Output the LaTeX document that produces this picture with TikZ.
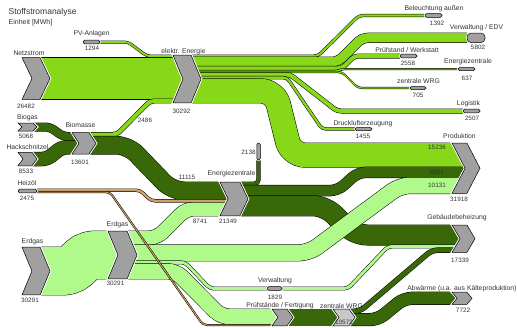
\documentclass[tikz,border=0pt]{standalone}
\usepackage{fontspec}
\setmainfont{Liberation Sans}
\usetikzlibrary{shapes.symbols,backgrounds}

\definecolor{elecgreen}{RGB}{134,216,24}
\definecolor{biogreen}{RGB}{56,104,8}
\definecolor{gasgreen}{RGB}{176,250,140}
\definecolor{oiltan}{RGB}{206,160,100}
\definecolor{stockgray}{RGB}{160,160,160}
\definecolor{wrggray}{RGB}{200,200,200}
\definecolor{lbltext}{RGB}{50,50,50}

\tikzset{
  flow/.style={draw=black, line width=0.5pt, double distance=#1pt, rounded corners=4pt},
  elecflow/.style={flow=#1, double=elecgreen},
  bioflow/.style={flow=#1, double=biogreen},
  gasflow/.style={flow=#1, double=gasgreen},
  oilflow/.style={flow=#1, double=oiltan},
  stock/.style={signal, signal from=west, signal to=east, draw=black, fill=stockgray,
    line width=0.5pt, inner sep=0pt, minimum width=28pt,
    preaction={draw=white, line width=2.5pt}},
  sink/.style={rectangle, rounded corners=1.5pt, draw=black, fill=stockgray,
    line width=0.5pt, inner sep=0pt, minimum width=17pt, minimum height=3.6pt,
    preaction={draw=white, line width=2pt}},
  lbl/.style={font=\fontsize{6.8}{7}\selectfont, text=lbltext, inner sep=0pt},
  val/.style={font=\fontsize{6.3}{7}\selectfont, text=lbltext, inner sep=0pt},
}

\begin{document}
\begin{tikzpicture}[x=1pt,y=-1pt]
\useasboundingbox (0,0) rectangle (517,327);

% Quellen und Knoten
\node[stock, minimum height=41.8pt, signal pointer angle=129] (netz) at (36,78.5) {};
\node[stock, minimum height=47.9pt, signal pointer angle=135] (elec) at (187,79) {};
\node[stock, minimum width=19pt, minimum height=8pt, signal pointer angle=90] (biogas) at (27.5,127) {};
\node[stock, minimum width=19pt, minimum height=13.5pt, signal pointer angle=107] (hack) at (27.5,159) {};
\node[stock, minimum width=24pt, minimum height=21.5pt, signal pointer angle=114] (biom) at (84,143.3) {};
\node[stock, minimum height=33.7pt, signal pointer angle=129] (ez) at (234,198.9) {};
\node[stock, minimum height=47.9pt, signal pointer angle=135] (erdgas) at (36,271) {};
\node[stock, minimum width=29pt, minimum height=47.9pt, signal pointer angle=135] (erdgas2) at (122.5,255) {};
\node[stock, minimum height=50.4pt, signal pointer angle=125] (prod) at (466,168.2) {};
\node[stock, minimum width=23pt, minimum height=27.4pt, signal pointer angle=119] (geb) at (463.5,238.7) {};
\node[stock, minimum width=20pt, minimum height=12.2pt, signal pointer angle=100] (abw) at (462,298.3) {};
\node[stock, minimum width=21pt, minimum height=16.7pt, signal pointer angle=109] (pruef) at (282.5,317.4) {};
\node[stock, fill=wrggray, minimum width=22pt, minimum height=16.7pt, signal pointer angle=109] (zwrg) at (344,317.4) {};

\node[sink] (pv) at (91.5,42) {};
\node[sink, minimum width=19pt] (heiz) at (27.5,191) {};
\node[sink] (bel) at (433.5,15.5) {};
\node[sink, rounded corners=4pt, minimum width=18pt, minimum height=9.5pt] (edv) at (476,37.8) {};
\node[sink] (pws) at (408.5,56) {};
\node[sink, minimum height=3pt] (ezs) at (466.5,69) {};
\node[sink, minimum width=16pt, minimum height=3pt] (wrgs) at (418,88) {};
\node[sink] (log) at (471.5,111) {};
\node[sink, minimum height=3pt] (dlu) at (363.5,129) {};
\node[sink, minimum width=15pt] (vw) at (274.5,288.5) {};
\node[sink, minimum width=3.5pt, minimum height=17pt] (ezl) at (258.5,151.5) {};

\begin{scope}[on background layer]
% elektrische Energie
\draw[elecflow=41.8] (40,78.5) -- (183,78.5);
\draw[elecflow=2.0] (pv.east) -- (128,42) -- (147,56.2) -- (183,56.2);
\draw[elecflow=3.9] (89,134.5) -- (117,134.5) -- (150,101) -- (183,101);
\draw[elecflow=2.2] (191,56.1) -- (318,56.1) -- (359,15.5) -- (bel.west);
\draw[elecflow=9.2, rounded corners=6pt] (191,61.8) -- (338,61.8) -- (362,37.8) -- (edv.west);
\draw[elecflow=4.0] (191,68.4) -- (342,68.4) -- (354.4,56) -- (pws.west);
\draw[elecflow=1.0] (191,70.9) -- (338,70.9) -- (342,69) -- (ezs.west);
\draw[elecflow=1.1] (191,72) -- (342,72) -- (358,88) -- (wrgs.west);
\draw[elecflow=4.0] (191,74.5) -- (290,74.5) -- (337,111) -- (log.west);
\draw[elecflow=2.3] (191,77.6) -- (287,77.6) -- (322,129) -- (dlu.west);
\draw[elecflow=24.1, rounded corners=14pt] (191,90.9) -- (275,90.9) -- (291,155.1) -- (465,155.1);

% Biomasse
\draw[bioflow=8.0, rounded corners=5pt] (33,127) -- (50,127) -- (63,136.5) -- (79,136.5);
\draw[bioflow=13.5, rounded corners=5pt] (32,159) -- (47,159) -- (62,147.3) -- (79,147.3);
\draw[bioflow=17.6, rounded corners=12pt] (89,145.2) -- (128,145.2) -- (172,190.8) -- (228,190.8);

% Energiezentrale
\draw[bioflow=3.4] (240,183.7) -- (258.5,183.7) -- (ezl.south);
\draw[bioflow=10.4, rounded corners=8pt] (240,190.6) -- (338,190.6) -- (358,172.3) -- (465,172.3);
\draw[bioflow=20, rounded corners=12pt] (240,205.8) -- (325,205.8) -- (355,235) -- (460,235);

% Erdgas
\draw[gasflow=47.9] (40,271) -- (58,271) .. controls (80,271) and (78,255) .. (100,255) -- (118,255);
\draw[gasflow=13.8, rounded corners=8pt] (127,237.9) -- (157,237.9) -- (186,208.9) -- (228,208.9);
\draw[gasflow=16.0, rounded corners=10pt] (127,252.8) -- (309,252.8) -- (400,185.5) -- (465,185.5);
\draw[gasflow=2.9] (127,262.3) -- (185,262.3) -- (210,288.5) -- (vw.west);
\draw[gasflow=2.9] (vw.east) -- (348,288.5) -- (388,246.4) -- (460,246.4);
\draw[gasflow=15.2, rounded corners=8pt] (127,271.3) -- (176,271.3) -- (221,316.6) -- (278,316.6);

% Heizoel
\draw[oilflow=2.4] (37,190.2) -- (140,190.2) -- (151,200.8) -- (228,200.8);
\draw[oilflow=1.0] (37,192.2) -- (110,192.2) -- (203,325) -- (278,325);

% Pruefstaende und zentrale WRG
\draw[bioflow=16.7] (287,317.4) -- (339,317.4);
\draw[bioflow=4.5, rounded corners=6pt] (349,311.3) -- (360,311.3) -- (432,250.1) -- (460,250.1);
\draw[bioflow=12.2, rounded corners=8pt] (349,319.6) -- (378,319.6) -- (404,298.3) -- (457,298.3);
\end{scope}

% Titel
\node[anchor=west, font=\fontsize{8.5}{9}\selectfont, text=lbltext, inner sep=0pt] (title) at (8.5,12.5) {Stoffstromanalyse};
\node[anchor=west, font=\fontsize{7}{8}\selectfont, text=lbltext, inner sep=0pt] (unit) at (8.5,23) {Einheit [MWh]};

% Beschriftungen
\node[lbl] (netz-n) at (29,53) {Netzstrom};
\node[val] (netz-v) at (26,106) {26482};
\node[lbl] (pv-n) at (91.5,34) {PV-Anlagen};
\node[val] (pv-v) at (92,48) {1294};
\node[lbl] (elec-n) at (183.5,52) {elektr. Energie};
\node[val] (elec-v) at (181.5,111) {30292};
\node[lbl] (biogas-n) at (27.5,118) {Biogas};
\node[val] (biogas-v) at (26,136) {5068};
\node[lbl] (hack-n) at (27.5,147) {Hackschnitzel};
\node[val] (hack-v) at (26,171) {8533};
\node[lbl] (biom-n) at (80.5,125) {Biomasse};
\node[val] (biom-v) at (80,162) {13601};
\node[val] (bioel-v) at (145,120) {2486};
\node[lbl] (heiz-n) at (27,183) {Heizöl};
\node[val] (heiz-v) at (27,198) {2475};
\node[val] (ezl-v) at (248.5,152) {2138};
\node[val] (bioez-v) at (187,177) {11115};
\node[lbl] (ez-n) at (231.5,174) {Energiezentrale};
\node[val] (ez-v) at (228,221) {21349};
\node[val] (gasez-v) at (200,221) {8741};
\node[lbl] (erdgas-n) at (32.5,242) {Erdgas};
\node[val] (erdgas-v) at (30,300) {30291};
\node[lbl] (erdgas2-n) at (117.5,225) {Erdgas};
\node[val] (erdgas2-v) at (115.5,283.5) {30291};
\node[lbl] (bel-n) at (434,9) {Beleuchtung außen};
\node[val] (bel-v) at (437,23) {1392};
\node[lbl] (edv-n) at (476.5,28) {Verwaltung / EDV};
\node[val] (edv-v) at (478,47) {5802};
\node[lbl] (pws-n) at (407,50) {Prüfstand / Werkstatt};
\node[val] (pws-v) at (408,63) {2558};
\node[lbl] (ezs-n) at (468,62) {Energiezentrale};
\node[val] (ezs-v) at (467,78.5) {637};
\node[lbl] (wrgs-n) at (418.5,81) {zentrale WRG};
\node[val] (wrgs-v) at (418,95) {705};
\node[lbl] (log-n) at (468.5,104) {Logistik};
\node[val] (log-v) at (472,118) {2507};
\node[lbl] (dlu-n) at (363,124) {Drucklufterzeugung};
\node[val] (dlu-v) at (363,136) {1455};
\node[lbl] (prod-n) at (459.5,136) {Produktion};
\node[val] (prod-v) at (459,199) {31918};
\node[val] (prodel-v) at (437,147) {15236};
\node[val] (prodez-v) at (437,172) {6551};
\node[val] (prodgas-v) at (437,185) {10131};
\node[lbl] (geb-n) at (457,218) {Gebäudebeheizung};
\node[val] (geb-v) at (460,260) {17339};
\node[lbl] (vw-n) at (275,281) {Verwaltung};
\node[val] (vw-v) at (275,297) {1829};
\node[lbl] (abw-n) at (462,289) {Abwärme (u.a. aus Kälteproduktion)};
\node[val] (abw-v) at (463,310) {7722};
\node[lbl] (pruef-n) at (280,306) {Prüfstände / Fertigung};
\node[lbl] (zwrg-n) at (341.5,306) {zentrale WRG};
\node[val] (zwrg-v) at (344,322) {10572};
\end{tikzpicture}
\end{document}
